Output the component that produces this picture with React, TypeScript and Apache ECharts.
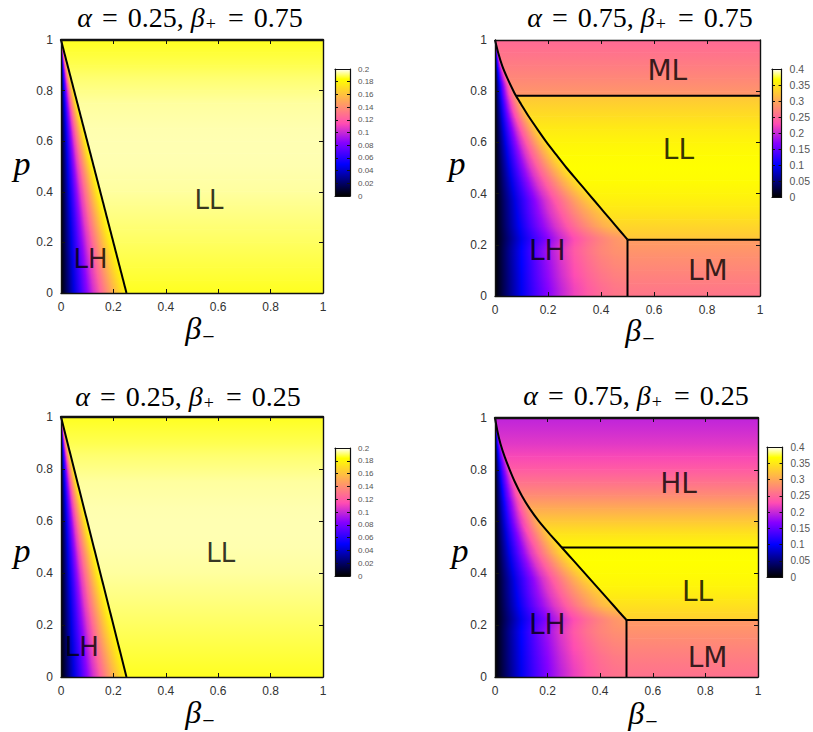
import React, { useEffect, useRef } from "react";
import * as echarts from "echarts";

// ---------------- data ----------------
// colour-bar ranges (current J)
const CB_MAX = [0.2, 0.4, 0.2, 0.4];
const CB_STEP = [0.02, 0.05, 0.02, 0.05];
const TITLE_ALPHA = ["0.25", "0.75", "0.25", "0.75"];
const TITLE_BETA_PLUS = ["0.75", "0.75", "0.25", "0.25"];

// phase boundaries, points [beta_-, p] ordered by p
const EDGE_A025 = [[0.25, 0], [0, 1]];
const EDGE_P2 = [[0.5, 0], [0.5, 0.22], [0.4754, 0.25], [0.4344, 0.3], [0.3934, 0.35], [0.3524, 0.4], [0.3114, 0.45], [0.2704, 0.5], [0.2325, 0.55], [0.195, 0.6], [0.161, 0.65], [0.128, 0.7], [0.098, 0.75], [0.079, 0.782], [0.07, 0.8], [0.047, 0.85], [0.027, 0.9], [0.012, 0.95], [0, 1]];
const EDGE_P4 = [[0.5, 0], [0.5, 0.22], [0.473, 0.25], [0.43, 0.3], [0.386, 0.35], [0.342, 0.4], [0.298, 0.45], [0.254, 0.5], [0.21, 0.55], [0.168, 0.6], [0.132, 0.65], [0.102, 0.7], [0.077, 0.75], [0.056, 0.8], [0.037, 0.85], [0.021, 0.9], [0.009, 0.95], [0, 1]];
const LINES_P2 = [[[0.079, 0.782], [1, 0.782]], [[0.5, 0.22], [1, 0.22]]];
const LINES_P4 = [[[0.254, 0.5], [1, 0.5]], [[0.5, 0.22], [1, 0.22]]];

// current J(p) in the regions right of the boundary
const LL1_P = [0, 0.05, 0.1, 0.15, 0.2, 0.25, 0.3, 0.35, 0.4, 0.45, 0.5, 0.55, 0.6, 0.65, 0.7, 0.75, 0.8, 0.85, 0.9, 0.95, 1];
const LL1_J = [0.186, 0.187, 0.188, 0.189, 0.19, 0.191, 0.192, 0.193, 0.194, 0.1945, 0.195, 0.1952, 0.1952, 0.195, 0.1945, 0.194, 0.1925, 0.191, 0.189, 0.1875, 0.186];

const LM2_P = [0, 0.05, 0.1, 0.15, 0.2, 0.22];
const LM2_J = [0.26, 0.266, 0.273, 0.28, 0.288, 0.291];
const LL2_P = [0.22, 0.25, 0.3, 0.35, 0.4, 0.45, 0.5, 0.55, 0.6, 0.65, 0.7, 0.75, 0.782];
const LL2_J = [0.322, 0.33, 0.342, 0.352, 0.36, 0.366, 0.368, 0.366, 0.36, 0.352, 0.342, 0.331, 0.323];
const ML2_P = [0.782, 0.8, 0.85, 0.9, 0.95, 1];
const ML2_J = [0.287, 0.283, 0.274, 0.266, 0.258, 0.25];

const LM4_P = [0, 0.05, 0.1, 0.15, 0.2, 0.22];
const LM4_J = [0.257, 0.263, 0.27, 0.278, 0.286, 0.289];
const LL4_P = [0.22, 0.25, 0.3, 0.35, 0.4, 0.45, 0.5];
const LL4_J = [0.33, 0.338, 0.35, 0.36, 0.366, 0.368, 0.366];
const HL4_P = [0.5, 0.55, 0.6, 0.65, 0.7, 0.75, 0.8, 0.85, 0.9, 0.95, 1];
const HL4_J = [0.362, 0.348, 0.326, 0.302, 0.278, 0.258, 0.24, 0.225, 0.213, 0.204, 0.196];

// LH region: rows of p, columns at fraction t of the distance to the boundary; J x 1000
const LH_ROW_P = [0.025, 0.075, 0.125, 0.175, 0.225, 0.275, 0.325, 0.375, 0.425, 0.475, 0.525, 0.575, 0.625, 0.675, 0.725, 0.775, 0.825, 0.875, 0.925, 0.975];
const LH_T = [0, 0.1, 0.2, 0.3, 0.4, 0.5, 0.6, 0.7, 0.8, 0.9, 1];
const LH_A025 = [
  [0, 22, 44, 65, 85, 104, 122, 139, 155, 169, 181],
  [0, 22, 44, 65, 85, 105, 123, 140, 156, 170, 182],
  [0, 22, 44, 65, 86, 105, 124, 141, 157, 171, 183],
  [0, 23, 45, 66, 86, 106, 124, 142, 158, 172, 184],
  [0, 23, 45, 66, 87, 106, 125, 142, 158, 173, 185],
  [0, 23, 45, 66, 87, 107, 126, 143, 159, 174, 186],
  [0, 23, 45, 66, 87, 107, 126, 143, 159, 174, 186],
  [0, 23, 45, 66, 87, 107, 126, 143, 159, 174, 186],
  [0, 23, 45, 66, 87, 107, 126, 143, 159, 174, 186],
  [0, 23, 45, 66, 87, 107, 126, 143, 159, 174, 186],
  [0, 23, 45, 66, 87, 107, 126, 143, 159, 174, 186],
  [0, 23, 45, 66, 87, 107, 126, 143, 159, 174, 186],
  [0, 23, 45, 66, 87, 107, 126, 143, 159, 174, 186],
  [0, 23, 45, 66, 87, 107, 126, 143, 159, 174, 186],
  [0, 23, 45, 66, 87, 107, 126, 143, 159, 174, 186],
  [0, 23, 45, 66, 87, 106, 125, 142, 158, 173, 185],
  [0, 23, 45, 66, 86, 106, 124, 142, 158, 172, 184],
  [0, 22, 44, 65, 86, 105, 124, 141, 157, 171, 183],
  [0, 22, 44, 65, 85, 105, 123, 140, 156, 170, 182],
  [0, 22, 44, 65, 85, 104, 122, 139, 155, 169, 181],
];
const LH_P2 = [
  [0, 50, 95, 134, 168, 197, 221, 239, 252, 260, 263],
  [0, 51, 97, 138, 173, 203, 227, 246, 259, 267, 270],
  [0, 53, 100, 141, 177, 208, 233, 252, 266, 274, 277],
  [0, 54, 102, 145, 182, 213, 239, 258, 273, 281, 284],
  [0, 48, 93, 132, 168, 201, 228, 252, 270, 285, 294],
  [0, 50, 96, 139, 175, 208, 238, 264, 287, 307, 320],
  [0, 48, 92, 137, 174, 209, 239, 267, 291, 311, 328],
  [0, 46, 88, 130, 169, 204, 236, 264, 292, 317, 338],
  [0, 47, 90, 133, 173, 209, 241, 270, 299, 324, 346],
  [0, 47, 91, 135, 175, 211, 244, 273, 302, 328, 349],
  [0, 47, 91, 135, 175, 211, 244, 273, 302, 328, 349],
  [0, 47, 90, 133, 173, 209, 241, 270, 299, 324, 346],
  [0, 46, 89, 131, 170, 205, 237, 266, 294, 319, 340],
  [0, 45, 87, 128, 166, 201, 232, 260, 287, 311, 332],
  [0, 44, 84, 124, 161, 195, 225, 252, 279, 302, 323],
  [0, 40, 78, 115, 149, 180, 208, 233, 257, 279, 298],
  [0, 36, 70, 104, 134, 162, 188, 210, 232, 252, 269],
  [0, 35, 68, 100, 130, 157, 182, 203, 225, 244, 260],
  [0, 34, 66, 97, 126, 152, 176, 197, 217, 236, 252],
  [0, 33, 64, 94, 122, 147, 170, 191, 211, 229, 244],
];
const LH_P4 = [
  [0, 49, 94, 133, 166, 195, 218, 237, 250, 257, 260],
  [0, 51, 96, 136, 170, 200, 223, 242, 255, 263, 266],
  [0, 52, 99, 140, 175, 206, 230, 249, 263, 271, 274],
  [0, 54, 102, 144, 180, 212, 237, 257, 271, 279, 282],
  [0, 48, 93, 132, 168, 201, 228, 252, 270, 285, 294],
  [0, 50, 97, 141, 178, 211, 241, 268, 291, 312, 325],
  [0, 49, 94, 139, 177, 212, 243, 271, 295, 316, 333],
  [0, 46, 89, 132, 171, 207, 239, 268, 296, 321, 343],
  [0, 47, 91, 134, 174, 211, 243, 272, 301, 327, 348],
  [0, 47, 91, 135, 175, 212, 245, 274, 303, 329, 350],
  [0, 46, 89, 131, 170, 206, 238, 266, 295, 320, 341],
  [0, 44, 84, 125, 162, 195, 226, 253, 280, 303, 324],
  [0, 41, 79, 116, 151, 182, 210, 236, 261, 283, 301],
  [0, 38, 73, 107, 139, 168, 194, 218, 241, 261, 278],
  [0, 35, 67, 99, 129, 155, 180, 201, 222, 241, 257],
  [0, 32, 62, 92, 120, 144, 167, 187, 207, 224, 239],
  [0, 30, 58, 86, 111, 135, 155, 174, 193, 209, 223],
  [0, 28, 55, 81, 105, 127, 147, 164, 182, 197, 210],
  [0, 27, 52, 77, 100, 121, 139, 156, 173, 187, 200],
  [0, 26, 50, 74, 96, 116, 134, 150, 166, 180, 192],
];

// region labels [beta_-, p]
const LABELS_P1 = [{ name: "LL", value: [0.565, 0.368] }, { name: "LH", value: [0.113, 0.134] }];
const LABELS_P2 = [{ name: "ML", value: [0.65, 0.88] }, { name: "LL", value: [0.692, 0.574] }, { name: "LH", value: [0.197, 0.177] }, { name: "LM", value: [0.803, 0.099] }];
const LABELS_P3 = [{ name: "LL", value: [0.61, 0.477] }, { name: "LH", value: [0.079, 0.115] }];
const LABELS_P4 = [{ name: "HL", value: [0.698, 0.747] }, { name: "LL", value: [0.77, 0.331] }, { name: "LH", value: [0.199, 0.203] }, { name: "LM", value: [0.808, 0.075] }];

// ---------------- helpers ----------------
function cmap(x: number): string {
  const c = (v: number) => Math.max(0, Math.min(1, v));
  x = c(x);
  const r = c(x / 0.32 - 0.78125);
  const g = c(2 * x - 0.84);
  let b: number;
  if (x < 0.25) b = 4 * x;
  else if (x < 0.42) b = 1;
  else if (x < 0.92) b = -2 * x + 1.84;
  else b = x / 0.08 - 11.5;
  b = c(b);
  return `rgb(${Math.round(r * 255)},${Math.round(g * 255)},${Math.round(b * 255)})`;
}

function bAt(edge: number[][], p: number): number {
  if (p <= edge[0][1]) return edge[0][0];
  for (let i = 0; i < edge.length - 1; i++) {
    const [x0, p0] = edge[i];
    const [x1, p1] = edge[i + 1];
    if (p >= p0 && p <= p1 && p1 > p0) return x0 + ((x1 - x0) * (p - p0)) / (p1 - p0);
  }
  return edge[edge.length - 1][0];
}

const PANELS = [
  { grid: { left: 61, top: 40, width: 262, height: 253 }, cb: { left: 335, top: 69, width: 15, height: 127 }, edge: EDGE_A025, lines: [] as number[][][], regions: [[LL1_P, LL1_J]], lh: LH_A025, labels: LABELS_P1, title: [190, 17], pName: [22, 163], bName: [200, 328], fs: 26, cbFs: 8, topW: 2.4 },
  { grid: { left: 495, top: 40, width: 265, height: 256 }, cb: { left: 772, top: 69, width: 15, height: 128 }, edge: EDGE_P2, lines: LINES_P2, regions: [[LM2_P, LM2_J], [LL2_P, LL2_J], [ML2_P, ML2_J]], lh: LH_P2, labels: LABELS_P2, title: [640, 17], pName: [457, 163], bName: [640, 330], fs: 28, cbFs: 10.5, topW: 1.4 },
  { grid: { left: 61, top: 417, width: 262, height: 260 }, cb: { left: 335, top: 448, width: 15, height: 128 }, edge: EDGE_A025, lines: [] as number[][][], regions: [[LL1_P, LL1_J]], lh: LH_A025, labels: LABELS_P3, title: [188, 396], pName: [22, 550], bName: [200, 712], fs: 26, cbFs: 8, topW: 2.4 },
  { grid: { left: 495, top: 418, width: 263, height: 259 }, cb: { left: 767, top: 447, width: 16, height: 130 }, edge: EDGE_P4, lines: LINES_P4, regions: [[LM4_P, LM4_J], [LL4_P, LL4_J], [HL4_P, HL4_J]], lh: LH_P4, labels: LABELS_P4, title: [636, 395], pName: [460, 550], bName: [643, 713], fs: 28, cbFs: 10, topW: 2.4 },
];

function buildOption() {
  const grids: any[] = [];
  const xAxis: any[] = [];
  const yAxis: any[] = [];
  const series: any[] = [];
  const graphic: any[] = [];
  const frame = { show: true, onZero: false, lineStyle: { color: "#111", width: 1.4 } };
  const tick = { show: true, inside: true, length: 4, lineStyle: { color: "#111", width: 1 } };
  const lab = { margin: 8, fontSize: 12, color: "#333", fontFamily: "Liberation Sans" };
  const nT = LH_T.length;

  PANELS.forEach((P, i) => {
    const max = CB_MAX[i];
    grids.push({ ...P.grid, containLabel: false });
    grids.push({ ...P.cb, containLabel: false });
    const g0 = 2 * i, g1 = 2 * i + 1;
    const ax = 4 * i;
    // plot axes
    xAxis.push({ type: "value", gridIndex: g0, min: 0, max: 1, interval: 0.2, position: "bottom", z: 6, axisLine: frame, axisTick: tick, axisLabel: lab, splitLine: { show: false } });
    xAxis.push({ type: "value", gridIndex: g0, min: 0, max: 1, interval: 0.2, position: "top", z: 6, axisLine: { show: true, onZero: false, lineStyle: { color: "#111", width: P.topW } }, axisTick: tick, axisLabel: { show: false }, splitLine: { show: false } });
    yAxis.push({ type: "value", gridIndex: g0, min: 0, max: 1, interval: 0.2, position: "left", z: 6, axisLine: frame, axisTick: tick, axisLabel: lab, splitLine: { show: false } });
    yAxis.push({ type: "value", gridIndex: g0, min: 0, max: 1, interval: 0.2, position: "right", z: 6, axisLine: frame, axisTick: tick, axisLabel: { show: false }, splitLine: { show: false } });
    // colour-bar axes
    const cbLine = { show: true, onZero: false, lineStyle: { color: "#111", width: 1.2 } };
    const cbTick = { show: true, inside: true, length: 3, lineStyle: { color: "#111", width: 1 } };
    xAxis.push({ type: "value", gridIndex: g1, min: 0, max: 1, position: "bottom", z: 6, axisLine: cbLine, axisTick: { show: false }, axisLabel: { show: false }, splitLine: { show: false } });
    xAxis.push({ type: "value", gridIndex: g1, min: 0, max: 1, position: "top", z: 6, axisLine: cbLine, axisTick: { show: false }, axisLabel: { show: false }, splitLine: { show: false } });
    yAxis.push({ type: "value", gridIndex: g1, min: 0, max, interval: CB_STEP[i], position: "left", z: 6, axisLine: cbLine, axisTick: cbTick, axisLabel: { show: false }, splitLine: { show: false } });
    yAxis.push({ type: "value", gridIndex: g1, min: 0, max, interval: CB_STEP[i], position: "right", z: 6, axisLine: cbLine, axisTick: cbTick, axisLabel: { margin: 8, fontSize: P.cbFs, color: "#555", fontFamily: "Liberation Sans" }, splitLine: { show: false } });

    const edge = P.edge;
    // region strips, shaded between p nodes
    const stripData: number[][] = [];
    P.regions.forEach(([ps, js]) => {
      for (let k = 0; k < ps.length - 1; k++) stripData.push([ps[k], ps[k + 1], js[k], js[k + 1]]);
    });
    series.push({
      type: "custom", xAxisIndex: ax, yAxisIndex: ax, clip: true, silent: true, z: 1,
      data: stripData,
      renderItem: (params: any, api: any) => {
        const p0 = api.value(0), p1 = api.value(1);
        const j0 = api.value(2), j1 = api.value(3);
        const N = 8;
        const pts: number[][] = [api.coord([1, p0]), api.coord([1, p1])];
        for (let k = N; k >= 0; k--) {
          const p = p0 + ((p1 - p0) * k) / N;
          pts.push(api.coord([bAt(edge, p), p]));
        }
        const ya = api.coord([0, p0])[1], yb = api.coord([0, p1])[1];
        const fill = { type: "linear", x: 0, y: ya, x2: 0, y2: yb, global: true, colorStops: [{ offset: 0, color: cmap(j0 / max) }, { offset: 1, color: cmap(j1 / max) }] };
        return { type: "polygon", shape: { points: pts }, style: { fill, stroke: fill, lineWidth: 0.8 } };
      },
    });
    // LH region: shaded between consecutive table rows
    const rows = P.lh.map((r) => r.map((v) => v / 1000));
    const lhData: number[][] = [];
    lhData.push([0, LH_ROW_P[0], ...rows[0], ...rows[0]]);
    for (let r = 0; r < LH_ROW_P.length - 1; r++) lhData.push([LH_ROW_P[r], LH_ROW_P[r + 1], ...rows[r], ...rows[r + 1]]);
    lhData.push([LH_ROW_P[LH_ROW_P.length - 1], 1, ...rows[rows.length - 1], ...rows[rows.length - 1]]);
    series.push({
      type: "custom", xAxisIndex: ax, yAxisIndex: ax, clip: true, silent: true, z: 1,
      data: lhData,
      renderItem: (params: any, api: any) => {
        const pA = api.value(0), pB = api.value(1);
        const A: number[] = [], B: number[] = [];
        for (let k = 0; k < nT; k++) { A.push(api.value(2 + k)); B.push(api.value(2 + nT + k)); }
        const M = Math.max(2, Math.round((pB - pA) / 0.005));
        const dq = (pB - pA) / M;
        const children: any[] = [];
        for (let m = 0; m < M; m++) {
          const q0 = pA + dq * m;
          const q1 = Math.min(1, q0 + dq * 1.6);
          const qc = q0 + dq / 2;
          const w = (qc - pA) / (pB - pA);
          const pts = [api.coord([-0.01, q0]), api.coord([-0.01, q1]), api.coord([bAt(edge, q1), q1]), api.coord([bAt(edge, qc), qc]), api.coord([bAt(edge, q0), q0])];
          const a = api.coord([0, qc]), b = api.coord([bAt(edge, qc), qc]);
          const stops = LH_T.map((t, k) => ({ offset: t, color: cmap((A[k] * (1 - w) + B[k] * w) / max) }));
          const fill = { type: "linear", x: a[0], y: a[1], x2: Math.max(b[0], a[0] + 0.5), y2: b[1], global: true, colorStops: stops };
          children.push({ type: "polygon", shape: { points: pts }, style: { fill } });
        }
        return { type: "group", children };
      },
    });
    // boundaries
    const lineStyle = { color: "#000", width: 2 };
    if (edge.length > 2) {
      series.push({ type: "line", xAxisIndex: ax, yAxisIndex: ax, data: [edge[0], edge[1]], symbol: "none", lineStyle, silent: true, z: 3 });
      series.push({ type: "line", xAxisIndex: ax, yAxisIndex: ax, data: edge.slice(1), symbol: "none", smooth: 0.2, lineStyle, silent: true, z: 3 });
    } else {
      series.push({ type: "line", xAxisIndex: ax, yAxisIndex: ax, data: edge, symbol: "none", lineStyle, silent: true, z: 3 });
    }
    P.lines.forEach((ln) => series.push({ type: "line", xAxisIndex: ax, yAxisIndex: ax, data: ln, symbol: "none", lineStyle, silent: true, z: 3 }));
    // region names
    series.push({
      type: "scatter", xAxisIndex: ax, yAxisIndex: ax, data: P.labels, symbolSize: 1, silent: true, z: 4,
      itemStyle: { color: "rgba(0,0,0,0)" },
      label: { show: true, position: "inside", formatter: "{b}", fontSize: P.fs, fontFamily: "DejaVu Sans", color: "#000" },
    });
    // colour bar
    series.push({
      type: "custom", xAxisIndex: ax + 2, yAxisIndex: ax + 2, silent: true, z: 1,
      data: [[0, max]],
      renderItem: (params: any, api: any) => {
        const a = api.coord([0, api.value(0)]), b = api.coord([1, api.value(1)]);
        const stops = [];
        for (let k = 0; k <= 100; k++) stops.push({ offset: k / 100, color: cmap(k / 100) });
        return { type: "rect", shape: { x: a[0], y: b[1], width: b[0] - a[0], height: a[1] - b[1] }, style: { fill: { type: "linear", x: 0, y: 1, x2: 0, y2: 0, colorStops: stops } } };
      },
    });

    // texts
    const serif = "Liberation Serif";
    graphic.push({
      type: "text", x: P.title[0], y: P.title[1], z: 10,
      style: {
        text: `{i|α}{e|=}{n|${TITLE_ALPHA[i]}, }{i|β}{s|+}{e|=}{n|${TITLE_BETA_PLUS[i]}}`,
        align: "center", verticalAlign: "middle", fill: "#000",
        rich: {
          i: { fontFamily: serif, fontStyle: "italic", fontSize: 28, fill: "#000" },
          n: { fontFamily: serif, fontSize: 28, fill: "#000" },
          e: { fontFamily: serif, fontSize: 28, padding: [0, 10, 0, 10], fill: "#000" },
          s: { fontFamily: serif, fontSize: 18, padding: [14, 2, 0, 1], fill: "#000" },
        },
      },
    });
    graphic.push({
      type: "text", x: P.pName[0], y: P.pName[1], z: 10,
      style: { text: "p", fontFamily: serif, fontStyle: "italic", fontSize: 34, fill: "#000", align: "center", verticalAlign: "middle" },
    });
    graphic.push({
      type: "text", x: P.bName[0], y: P.bName[1], z: 10,
      style: {
        text: "{i|β}{s|−}", align: "center", verticalAlign: "middle", fill: "#000",
        rich: {
          i: { fontFamily: serif, fontStyle: "italic", fontSize: 32, fill: "#000" },
          s: { fontFamily: serif, fontSize: 22, padding: [16, 0, 0, 1], fill: "#000" },
        },
      },
    });
  });

  return { animation: false, backgroundColor: "#fff", grid: grids, xAxis, yAxis, series, graphic };
}

export default function App() {
  const ref = useRef<HTMLDivElement>(null);
  useEffect(() => {
    const chart = echarts.init(ref.current!, null, { renderer: "svg" });
    chart.setOption(buildOption() as any);
    return () => chart.dispose();
  }, []);
  return <div ref={ref} style={{ position: "absolute", left: 0, top: 0, width: 813, height: 732, background: "#fff" }} />;
}
